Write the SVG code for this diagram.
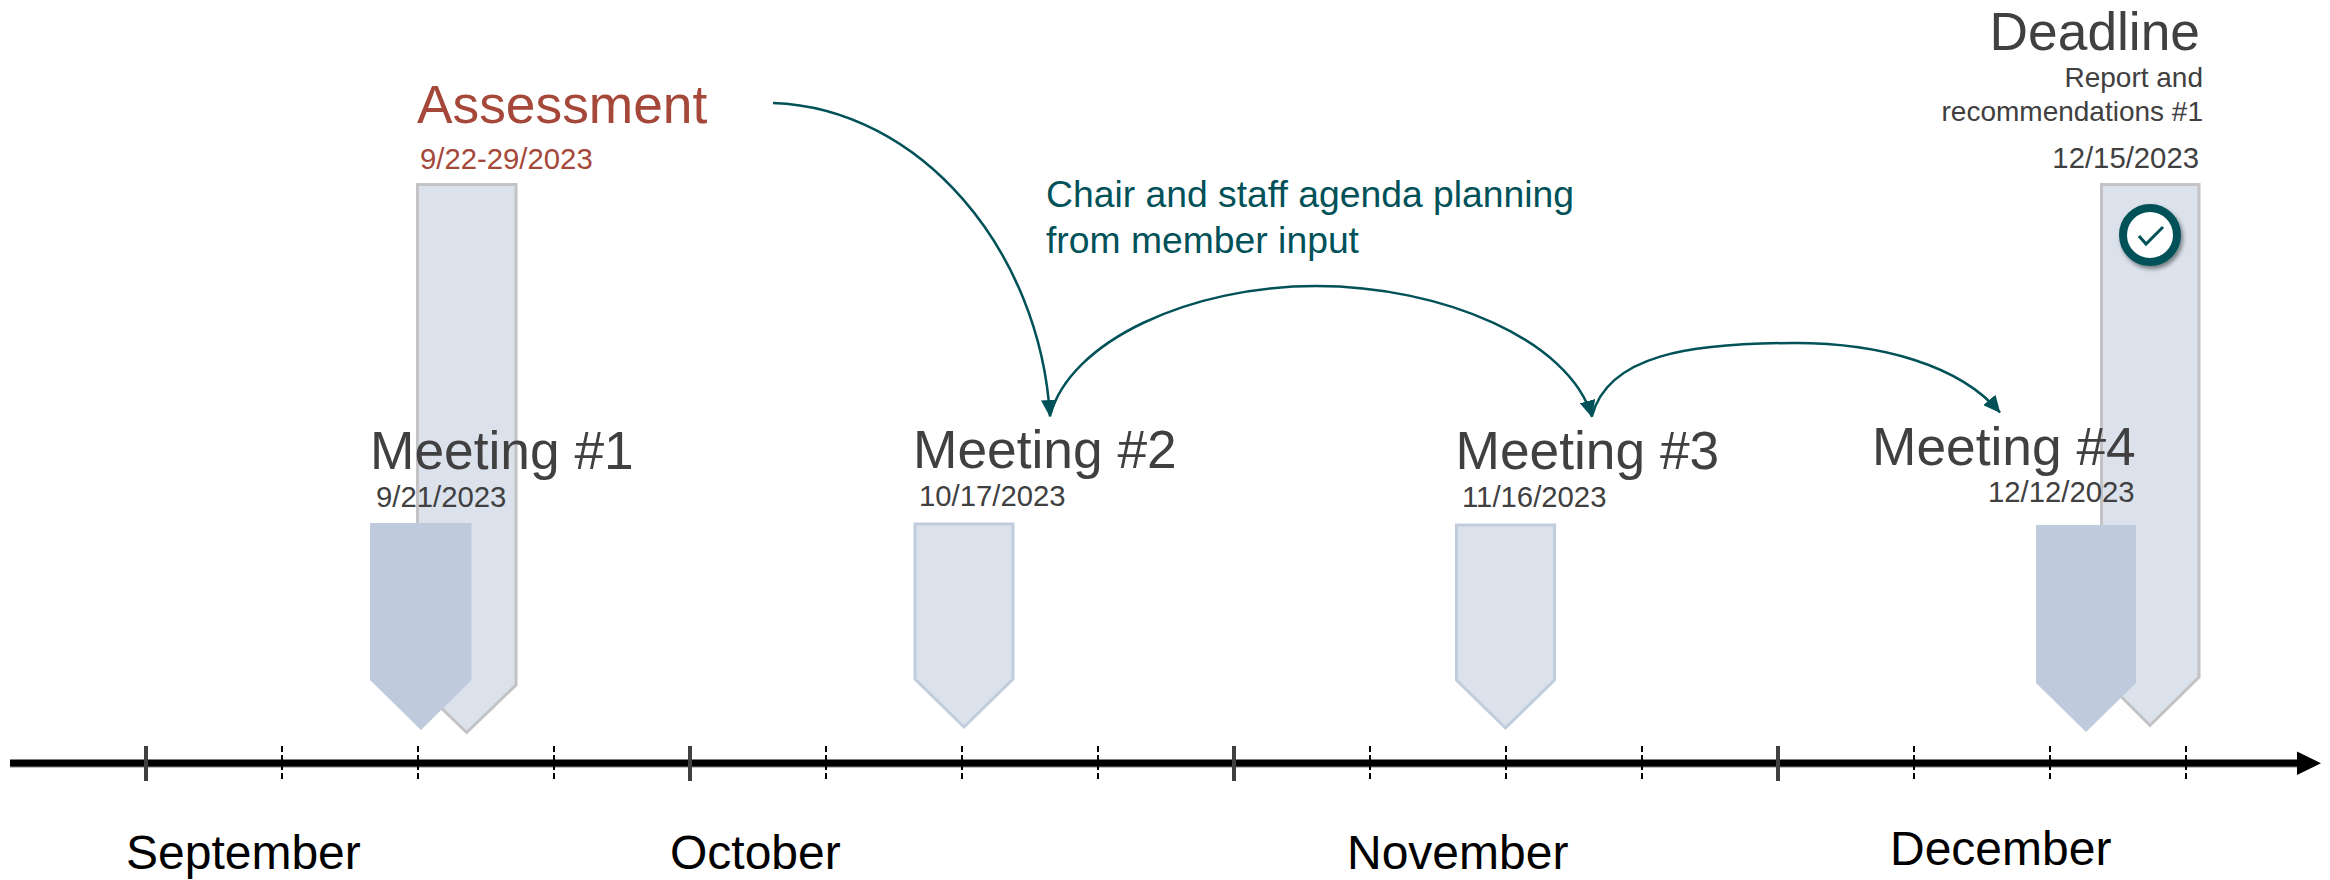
<svg xmlns="http://www.w3.org/2000/svg" width="2330" height="880" viewBox="0 0 2330 880">
<style>
text{font-family:"Liberation Sans",Arial,sans-serif;fill:#404040}
.t{font-size:53.3px}
.d{font-size:29.3px}
.r{font-size:28px}
.n{font-size:37.3px;fill:#005158}
.m{font-size:48px;fill:#000}
.red{fill:#a5483a}
.b{fill:#dbe2ec;stroke:#c3c2c4;stroke-width:3}
.a{fill:#bfcbdc}
.o{fill:#dbe2ec;stroke:#c1cddd;stroke-width:3}
.c{fill:none;stroke:#005158;stroke-width:2.500;marker-end:url(#ah)}
.maj{stroke:#404040;stroke-width:4}
.min{stroke:#000;stroke-width:2;stroke-dasharray:6 3}
</style>
<defs>
<marker id="ah" markerUnits="userSpaceOnUse" markerWidth="17" markerHeight="16" refX="16.500" refY="8" orient="auto"><path d="M0 0L17 8L0 16z" fill="#005158"/></marker>
<filter id="sh" x="-30%" y="-30%" width="170%" height="170%"><feDropShadow dx="2" dy="3" stdDeviation="2" flood-color="#000" flood-opacity=".45"/></filter>
</defs>
<g id="assessment">
<path class="b" d="M417.500 184.500H516V685L466.700 732.500L417.500 685z"/>
<text x="417" y="122.700" class="t red">Assessment</text>
<text x="420" y="169" class="d red">9/22-29/2023</text>
</g>
<g id="deadline">
<path class="b" d="M2101.500 184.500H2199V677L2150 725.500L2101.500 677z"/>
<circle cx="2150" cy="235" r="27" fill="#fff" stroke="#005158" stroke-width="8" filter="url(#sh)"/>
<path d="M2139 236L2146 244L2163 227" fill="none" stroke="#005158" stroke-width="3"/>
<text x="2200" y="50" text-anchor="end" class="t">Deadline</text>
<text x="2203" y="87" text-anchor="end" class="r">Report and</text>
<text x="2203" y="120.700" text-anchor="end" class="r">recommendations #1</text>
<text x="2199" y="167.700" text-anchor="end" class="d">12/15/2023</text>
</g>
<g id="meeting1">
<path class="a" d="M370 523H471.500V680L421 730L370 680z"/>
<text x="370" y="469" class="t">Meeting #1</text>
<text x="376" y="507" class="d">9/21/2023</text>
</g>
<g id="meeting2">
<path class="o" d="M915 524H1013V679L964 727L915 679z"/>
<text x="913" y="468.300" class="t">Meeting #2</text>
<text x="919" y="506" class="d">10/17/2023</text>
</g>
<g id="meeting3">
<path class="o" d="M1456.500 525H1554.500V680L1505.500 728L1456.500 680z"/>
<text x="1455.500" y="469.300" class="t">Meeting #3</text>
<text x="1462" y="506.700" class="d">11/16/2023</text>
</g>
<g id="meeting4">
<path class="a" d="M2036 525H2136V683L2086 732L2036 683z"/>
<text x="1872" y="465" class="t">Meeting #4</text>
<text x="1988" y="502" class="d">12/12/2023</text>
</g>
<g id="axis">
<path d="M10 763.300H2300" stroke="#808080" stroke-width="8.500"/>
<path d="M10 763.300H2300" stroke="#000" stroke-width="6.500"/>
<path d="M2297 751.500L2321 763.300L2297 775z" fill="#000"/>
<path class="maj" d="M146 746V781M690 746V781M1234 746V781M1778 746V781"/>
<path class="min" d="M282 746V781M418 746V781M554 746V781M826 746V781M962 746V781M1098 746V781M1370 746V781M1506 746V781M1642 746V781M1914 746V781M2050 746V781M2186 746V781"/>
</g>
<g id="connectors">
<path class="c" d="M773 103C920 108 1040 250 1050 416.500"/>
<path class="c" d="M1050 416C1070 340 1192 286 1316 286C1442 286 1570 340 1592 417"/>
<path class="c" d="M1592 416C1608 355 1690 343 1795 343C1880 343 1960 365 2000 412.500"/>
</g>
<text x="1046" y="206.700" class="n">Chair and staff agenda planning</text>
<text x="1046" y="253.300" class="n">from member input</text>
<text x="126" y="868.500" class="m">September</text>
<text x="670" y="868.500" class="m">October</text>
<text x="1347" y="868.500" class="m">November</text>
<text x="1890" y="865" class="m">December</text>
</svg>
